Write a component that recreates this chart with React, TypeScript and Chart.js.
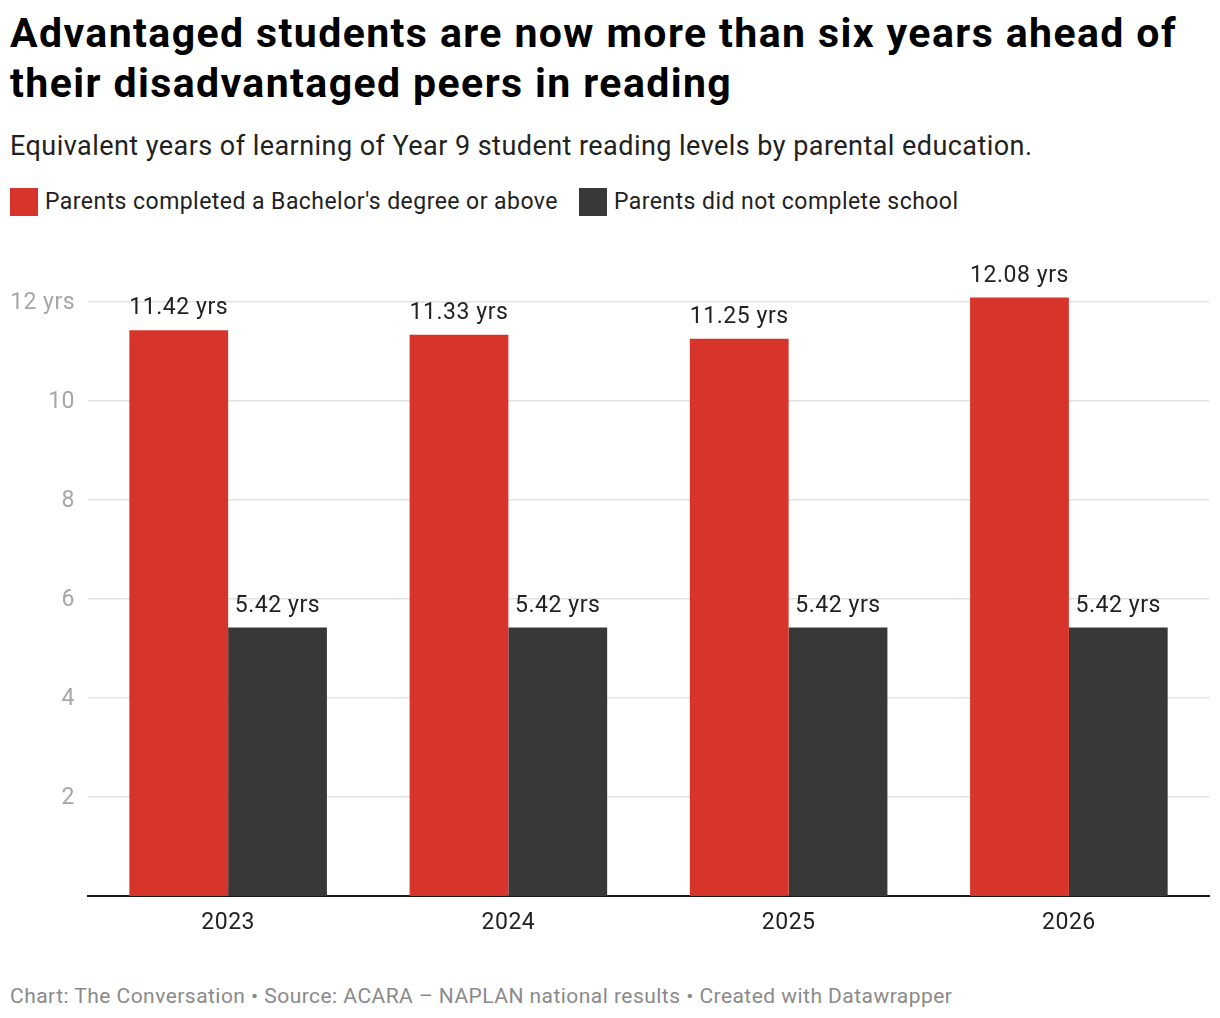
import React, { useEffect, useRef } from "react";
import { Chart, registerables } from "chart.js";

Chart.register(...registerables);

const categories = ["2023", "2024", "2025", "2026"];
const bachelorValues = [11.42, 11.33, 11.25, 12.08];
const noSchoolValues = [5.42, 5.42, 5.42, 5.42];
const seriesLabels = ["Parents completed a Bachelor's degree or above", "Parents did not complete school"];
const seriesColors = ["#d7352b", "#383838"];
const yTicks = [2, 4, 6, 8, 10, 12];

const title1 = "Advantaged students are now more than six years ahead of";
const title2 = "their disadvantaged peers in reading";
const subtitle = "Equivalent years of learning of Year 9 student reading levels by parental education.";
const footer = "Chart: The Conversation • Source: ACARA – NAPLAN national results • Created with Datawrapper";

const FONT = "Roboto, 'Noto Sans', sans-serif";

const spacingPlugin = {
  id: "spacing",
  beforeDraw(chart: any) {
    (chart.ctx as any).letterSpacing = "0.45px";
  },
};

const labelPlugin = {
  id: "barLabels",
  afterDatasetsDraw(chart: any) {
    const ctx = chart.ctx;
    ctx.save();
    (ctx as any).letterSpacing = "0.55px";
    ctx.font = `23px ${FONT}`;
    ctx.fillStyle = "#222";
    ctx.textAlign = "center";
    ctx.textBaseline = "alphabetic";
    chart.data.datasets.forEach((ds: any, i: number) => {
      const meta = chart.getDatasetMeta(i);
      meta.data.forEach((bar: any, j: number) => {
        const v = ds.data[j];
        ctx.fillText(v.toFixed(2) + " yrs", bar.x, bar.y - 16);
      });
    });
    ctx.restore();
  },
};

export default function App() {
  const ref = useRef<HTMLCanvasElement>(null);
  useEffect(() => {
    if (!ref.current) return;
    Chart.defaults.font.family = FONT;
    const chart = new Chart(ref.current, {
      type: "bar",
      data: {
        labels: categories,
        datasets: [
          { label: seriesLabels[0], data: bachelorValues, backgroundColor: seriesColors[0], categoryPercentage: 0.705, barPercentage: 1 },
          { label: seriesLabels[1], data: noSchoolValues, backgroundColor: seriesColors[1], categoryPercentage: 0.705, barPercentage: 1 },
        ],
      },
      options: {
        animation: false,
        responsive: true,
        maintainAspectRatio: false,
        layout: { padding: { top: 26, right: 3, bottom: 0, left: 0 } },
        plugins: { legend: { display: false }, tooltip: { enabled: false } },
        scales: {
          x: {
            grid: { display: false, drawTicks: false },
            border: { display: true, color: "#1a1a1a", width: 2 },
            ticks: { color: "#222", font: { size: 23 }, padding: 13 },
            afterFit: (s: any) => { s.height = 54; },
          },
          y: {
            min: 0,
            max: 12.5,
            grid: { color: "#e2e2e2", lineWidth: 1.5, drawTicks: false },
            border: { display: false },
            ticks: {
              color: "#a6a6a6",
              font: { size: 23 },
              padding: 13,
              labelOffset: 1.5,
              callback: (v: any) => (v === 12 ? "12 yrs" : String(v)),
            },
            afterBuildTicks: (s: any) => {
              s.ticks = yTicks.map((v) => ({ value: v }));
            },
            afterFit: (s: any) => { s.width = 80; },
          },
        },
      },
      plugins: [spacingPlugin, labelPlugin],
    });
    return () => chart.destroy();
  }, []);

  const legendItem = (label: string, color: string) => (
    <div style={{ display: "flex", alignItems: "center", marginRight: 21 }}>
      <div style={{ width: 28, height: 28, background: color, marginRight: 7 }} />
      <span style={{ fontSize: 23, letterSpacing: "0.45px", color: "#222", lineHeight: "28px" }}>{label}</span>
    </div>
  );

  return (
    <div style={{ fontFamily: FONT, width: 1204, position: "relative" }}>
      <div style={{ fontSize: 41, fontWeight: 700, lineHeight: "50px", letterSpacing: "1.4px", color: "#000", paddingLeft: 2, whiteSpace: "nowrap" }}>
        {title1}
        <br />
        {title2}
      </div>
      <div style={{ fontSize: 27, lineHeight: "30px", letterSpacing: "0.45px", color: "#222", marginTop: 23, paddingLeft: 2, whiteSpace: "nowrap" }}>{subtitle}</div>
      <div style={{ display: "flex", marginTop: 27, paddingLeft: 2 }}>
        {legendItem(seriesLabels[0], seriesColors[0])}
        {legendItem(seriesLabels[1], seriesColors[1])}
      </div>
      <div style={{ position: "relative", height: 700, marginTop: 34 }}>
        <canvas ref={ref} />
      </div>
      <div style={{ fontSize: 21, lineHeight: "24px", letterSpacing: "0.46px", color: "#8a8a8a", marginTop: 34, paddingLeft: 2, whiteSpace: "nowrap" }}>{footer}</div>
    </div>
  );
}
